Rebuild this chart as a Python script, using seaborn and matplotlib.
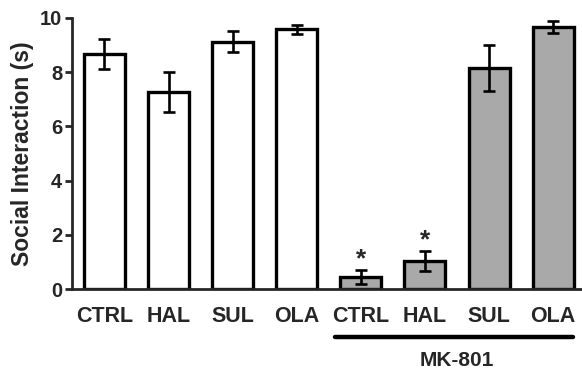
import numpy as np
import pandas as pd
import matplotlib
matplotlib.use("Agg")
import matplotlib.pyplot as plt
import seaborn as sns

# Social interaction time per group, mean and SEM
groups = ["CTRL", "HAL", "SUL", "OLA", "CTRL ", "HAL ", "SUL ", "OLA "]
tick_labels = ["CTRL", "HAL", "SUL", "OLA", "CTRL", "HAL", "SUL", "OLA"]
means = [8.66, 7.27, 9.13, 9.58, 0.45, 1.03, 8.17, 9.66]
sems = [0.55, 0.74, 0.40, 0.16, 0.25, 0.38, 0.85, 0.22]
treatment = ["vehicle"] * 4 + ["MK-801"] * 4
signif = [False, False, False, False, True, True, False, False]

df = pd.DataFrame({"group": groups, "value": means, "treatment": treatment})

sns.set_style("ticks")
plt.rcParams["font.family"] = ["Liberation Sans", "DejaVu Sans"]
plt.rcParams["font.weight"] = "bold"

fig = plt.figure(figsize=(5.82, 3.71), dpi=100)
ax = fig.add_axes([0.1237, 0.221, 0.8763, 0.7305])

sns.barplot(data=df, x="group", y="value", hue="treatment",
            palette={"vehicle": "white", "MK-801": "#a9a9a9"},
            dodge=False, width=0.64, edgecolor="black", linewidth=2.4,
            legend=False, ax=ax)

x = np.arange(len(groups))
ax.errorbar(x, means, yerr=sems, fmt="none", ecolor="black",
            elinewidth=1.9, capsize=4.2, capthick=1.9, clip_on=False, zorder=5)

for i in range(len(groups)):
    if signif[i]:
        ax.text(x[i], means[i] + sems[i] - 0.04, "*", ha="center", va="bottom",
                fontsize=19, fontweight="bold")

ax.set_xlim(-0.507, 7.45)
ax.set_ylim(0, 10)
ax.set_yticks([0, 2, 4, 6, 8, 10])
ax.tick_params(axis="y", labelsize=14.5, width=2, length=5, pad=2)
ax.tick_params(axis="x", length=0, labelsize=15.5, pad=12)
ax.set_xticks(x)
ax.set_xticklabels(tick_labels, fontweight="bold")
for lab in ax.get_yticklabels():
    lab.set_fontweight("bold")
ax.set_xlabel("")
ax.set_ylabel("Social Interaction (s)", fontsize=16.5, fontweight="bold", labelpad=4)

for s in ["top", "right"]:
    ax.spines[s].set_visible(False)
for s in ["left", "bottom"]:
    ax.spines[s].set_linewidth(2)

# MK-801 bracket under the last four groups
ax.plot([3.6, 7.31], [-0.177, -0.177], color="black", lw=3.2,
        transform=ax.get_xaxis_transform(), clip_on=False, solid_capstyle="round")
ax.text(5.5, -0.265, "MK-801", transform=ax.get_xaxis_transform(),
        ha="center", va="center", fontsize=15, fontweight="bold")

fig.savefig("out.png", dpi=100)
